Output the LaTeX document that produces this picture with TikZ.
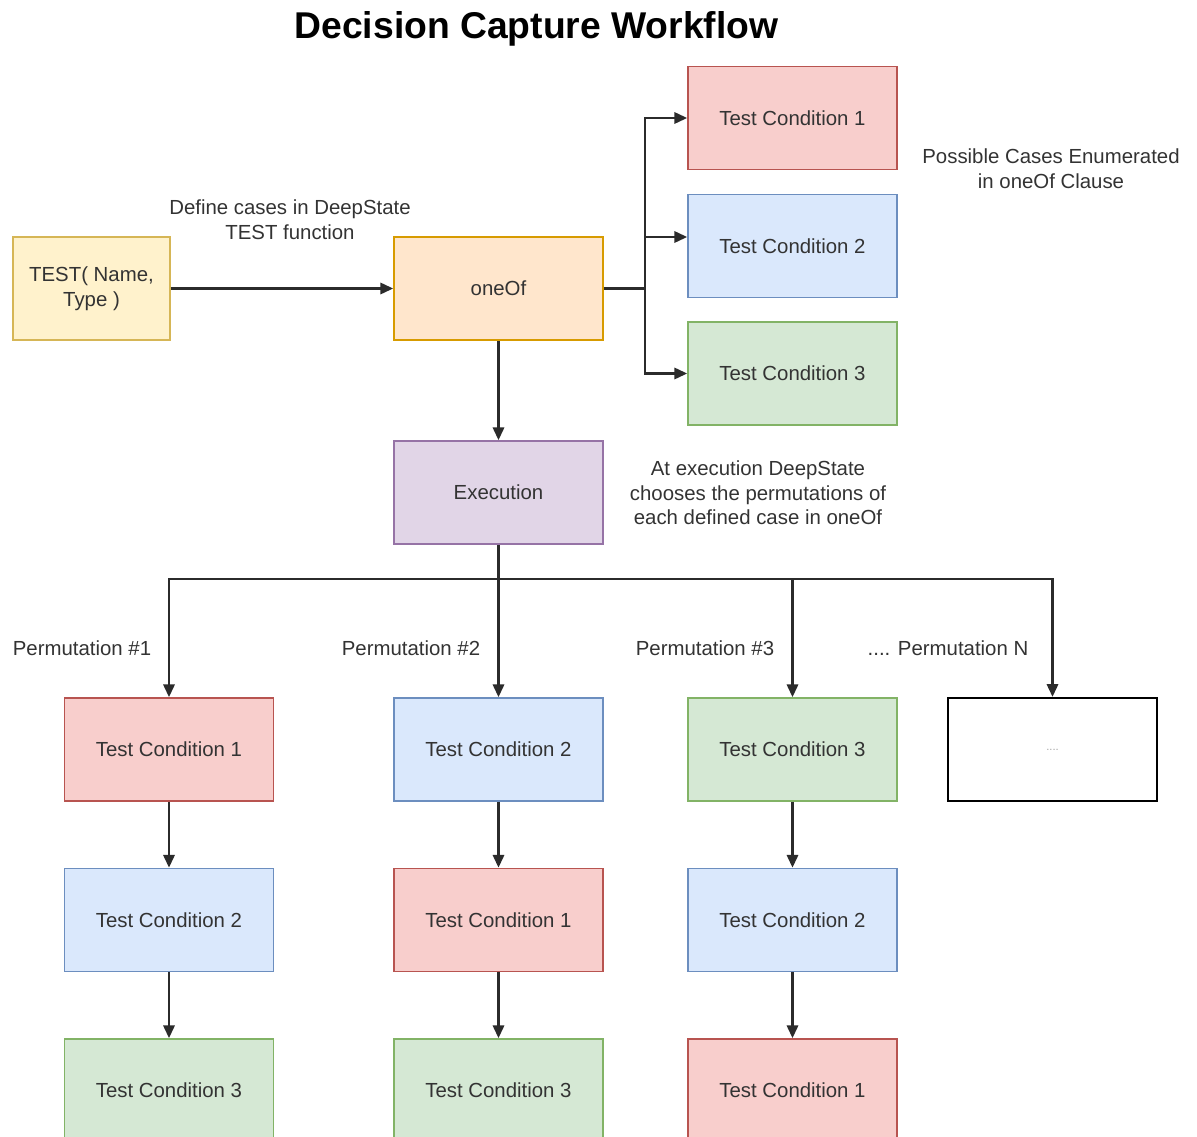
\documentclass[tikz,border=0pt]{standalone}
\usepackage{fontspec}
\setmainfont{Liberation Sans}
\usetikzlibrary{arrows.meta,calc}
\definecolor{txt}{HTML}{333333}
\definecolor{ln}{HTML}{2B2B2B}
\definecolor{yelF}{HTML}{FFF2CC}\definecolor{yelD}{HTML}{D6B656}
\definecolor{orgF}{HTML}{FFE6CC}\definecolor{orgD}{HTML}{D79B00}
\definecolor{redF}{HTML}{F8CECC}\definecolor{redD}{HTML}{B85450}
\definecolor{bluF}{HTML}{DAE8FC}\definecolor{bluD}{HTML}{6C8EBF}
\definecolor{grnF}{HTML}{D5E8D4}\definecolor{grnD}{HTML}{82B366}
\definecolor{purF}{HTML}{E1D5E7}\definecolor{purD}{HTML}{9673A6}
\tikzset{
  x=0.025cm, y=-0.025cm,
  lbl/.style={text=txt, font=\fontsize{14.5}{17.5}\selectfont, align=center, inner sep=0pt},
  box/.style={lbl, draw, line width=1.2pt, minimum width=5.225cm, minimum height=2.575cm},
  tcred/.style={box, fill=redF, draw=redD},
  tcblue/.style={box, fill=bluF, draw=bluD},
  tcgreen/.style={box, fill=grnF, draw=grnD},
  conn/.style={draw=ln, line width=1.6pt, -{Triangle[length=9pt,width=8pt]}},
  plain/.style={draw=ln, line width=1.6pt}
}
\begin{document}
\begin{tikzpicture}
\useasboundingbox (0,0) rectangle (1197,1137);
\fill[white] (0,0) rectangle (1197,1137);

% title
\node[font=\fontsize{26.5}{30}\selectfont\bfseries, text=black, inner sep=0pt] (title) at (536.5,29) {Decision Capture Workflow};

% test definition and the oneOf clause
\node[box, fill=yelF, draw=yelD, minimum width=3.925cm] (test) at (91.5,288.5) {TEST( Name,\\ Type )};
\node[box, fill=orgF, draw=orgD] (oneof) at (498.5,288.5) {oneOf};
\node[lbl] (deflbl) at (290,220) {Define cases in DeepState\\TEST function};

% enumerated cases
\node[tcred]   (c1) at (792.5,118)   {Test Condition 1};
\node[tcblue]  (c2) at (792.5,246)   {Test Condition 2};
\node[tcgreen] (c3) at (792.5,373.5) {Test Condition 3};
\node[lbl] (caselbl) at (1051,169) {Possible Cases Enumerated\\in oneOf Clause};

% execution step
\node[box, fill=purF, draw=purD] (exec) at (498.5,492.5) {Execution};
\node[lbl] (execlbl) at (758,493) {At execution DeepState\\chooses the permutations of\\each defined case in oneOf};

% permutation columns
\node[tcred]   (p1a) at (169,749.5)   {Test Condition 1};
\node[tcblue]  (p1b) at (169,920)     {Test Condition 2};
\node[tcgreen] (p1c) at (169,1090.5)  {Test Condition 3};

\node[tcblue]  (p2a) at (498.5,749.5)  {Test Condition 2};
\node[tcred]   (p2b) at (498.5,920)    {Test Condition 1};
\node[tcgreen] (p2c) at (498.5,1090.5) {Test Condition 3};

\node[tcgreen] (p3a) at (792.5,749.5)  {Test Condition 3};
\node[tcblue]  (p3b) at (792.5,920)    {Test Condition 2};
\node[tcred]   (p3c) at (792.5,1090.5) {Test Condition 1};

\node[box, fill=white, draw=black, line width=1.6pt] (pna) at (1052.5,749.5) {\textcolor{black!35}{\fontsize{8}{9}\selectfont ....}};

\node[lbl] (perm1) at (82,648)  {Permutation \#1};
\node[lbl] (perm2) at (411,648) {Permutation \#2};
\node[lbl] (perm3) at (705,648) {Permutation \#3};
\node[lbl] (permn) at (948,648) {.... Permutation N};

% connectors
\draw[conn] (test.east) -- (oneof.west);
\coordinate (br) at (645,288.5);
\draw[plain] (oneof.east) -- (br);
\draw[conn] (br) |- (c1.west);
\draw[conn] (br) |- ($(c2.west)+(0,-9)$);
\draw[conn] (br) |- (c3.west);
\draw[conn] (oneof.south) -- (exec.north);

\coordinate (bus) at (498.5,579);
\draw[plain] (exec.south) -- (bus);
\draw[conn] (bus) -| (p1a.north);
\draw[conn] (bus) -- (p2a.north);
\draw[conn] (bus) -| (p3a.north);
\draw[conn] (bus) -| (pna.north);

\draw[conn] (p1a.south) -- (p1b.north);
\draw[conn] (p1b.south) -- (p1c.north);
\draw[conn] (p2a.south) -- (p2b.north);
\draw[conn] (p2b.south) -- (p2c.north);
\draw[conn] (p3a.south) -- (p3b.north);
\draw[conn] (p3b.south) -- (p3c.north);
\end{tikzpicture}
\end{document}
